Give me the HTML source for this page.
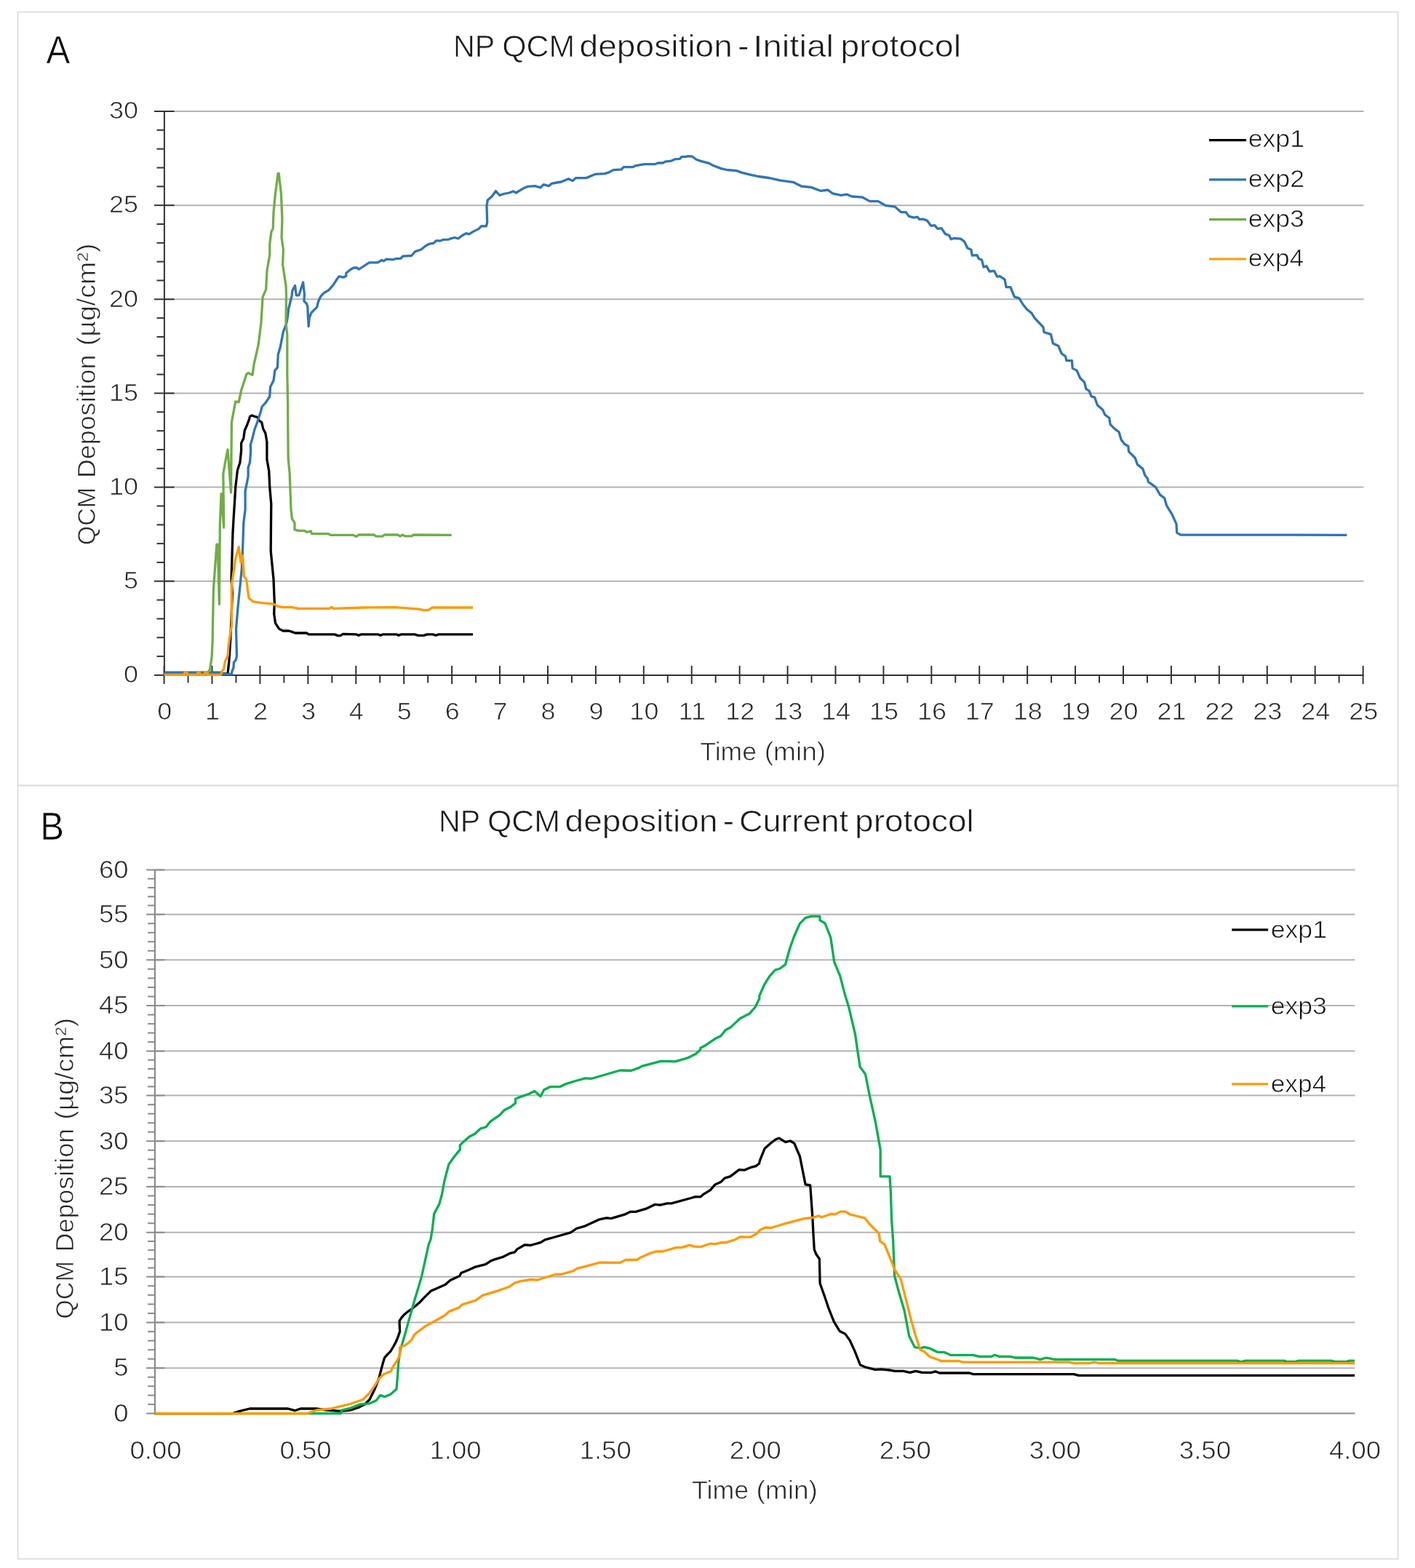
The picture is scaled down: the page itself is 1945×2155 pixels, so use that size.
<!DOCTYPE html>
<html><head><meta charset="utf-8"><title>NP QCM deposition</title>
<style>
html,body{margin:0;padding:0;background:#fff;}
body{width:1945px;height:2155px;overflow:hidden;}
svg{display:block;font-family:'Liberation Sans', Arial, sans-serif;}
text{stroke:#fff;stroke-width:0.7px;}
</style></head>
<body>
<svg width="1945" height="2155" viewBox="0 0 1945 2155">
<rect x="0" y="0" width="1945" height="2155" fill="#ffffff"/>
<rect x="24.5" y="16.5" width="1897" height="1063" fill="none" stroke="#d9d9d9" stroke-width="1.6"/>
<rect x="24.5" y="1079.5" width="1897" height="1063" fill="none" stroke="#d9d9d9" stroke-width="1.6"/>
<line x1="225.6" y1="798.75" x2="1874.5" y2="798.75" stroke="#b3b3b3" stroke-width="2"/>
<line x1="225.6" y1="669.6" x2="1874.5" y2="669.6" stroke="#b3b3b3" stroke-width="2"/>
<line x1="225.6" y1="540.45" x2="1874.5" y2="540.45" stroke="#b3b3b3" stroke-width="2"/>
<line x1="225.6" y1="411.3" x2="1874.5" y2="411.3" stroke="#b3b3b3" stroke-width="2"/>
<line x1="225.6" y1="282.15" x2="1874.5" y2="282.15" stroke="#b3b3b3" stroke-width="2"/>
<line x1="225.6" y1="153" x2="1874.5" y2="153" stroke="#b3b3b3" stroke-width="2"/>
<line x1="225.9" y1="152.5" x2="225.9" y2="928.5" stroke="#333333" stroke-width="2"/>
<line x1="212" y1="927.9" x2="239.6" y2="927.9" stroke="#333333" stroke-width="2"/>
<line x1="215.5" y1="902.07" x2="225.9" y2="902.07" stroke="#333333" stroke-width="2"/>
<line x1="215.5" y1="876.24" x2="225.9" y2="876.24" stroke="#333333" stroke-width="2"/>
<line x1="215.5" y1="850.41" x2="225.9" y2="850.41" stroke="#333333" stroke-width="2"/>
<line x1="215.5" y1="824.58" x2="225.9" y2="824.58" stroke="#333333" stroke-width="2"/>
<line x1="212" y1="798.75" x2="239.6" y2="798.75" stroke="#333333" stroke-width="2"/>
<line x1="215.5" y1="772.92" x2="225.9" y2="772.92" stroke="#333333" stroke-width="2"/>
<line x1="215.5" y1="747.09" x2="225.9" y2="747.09" stroke="#333333" stroke-width="2"/>
<line x1="215.5" y1="721.26" x2="225.9" y2="721.26" stroke="#333333" stroke-width="2"/>
<line x1="215.5" y1="695.43" x2="225.9" y2="695.43" stroke="#333333" stroke-width="2"/>
<line x1="212" y1="669.6" x2="239.6" y2="669.6" stroke="#333333" stroke-width="2"/>
<line x1="215.5" y1="643.77" x2="225.9" y2="643.77" stroke="#333333" stroke-width="2"/>
<line x1="215.5" y1="617.94" x2="225.9" y2="617.94" stroke="#333333" stroke-width="2"/>
<line x1="215.5" y1="592.11" x2="225.9" y2="592.11" stroke="#333333" stroke-width="2"/>
<line x1="215.5" y1="566.28" x2="225.9" y2="566.28" stroke="#333333" stroke-width="2"/>
<line x1="212" y1="540.45" x2="239.6" y2="540.45" stroke="#333333" stroke-width="2"/>
<line x1="215.5" y1="514.62" x2="225.9" y2="514.62" stroke="#333333" stroke-width="2"/>
<line x1="215.5" y1="488.79" x2="225.9" y2="488.79" stroke="#333333" stroke-width="2"/>
<line x1="215.5" y1="462.96" x2="225.9" y2="462.96" stroke="#333333" stroke-width="2"/>
<line x1="215.5" y1="437.13" x2="225.9" y2="437.13" stroke="#333333" stroke-width="2"/>
<line x1="212" y1="411.3" x2="239.6" y2="411.3" stroke="#333333" stroke-width="2"/>
<line x1="215.5" y1="385.47" x2="225.9" y2="385.47" stroke="#333333" stroke-width="2"/>
<line x1="215.5" y1="359.64" x2="225.9" y2="359.64" stroke="#333333" stroke-width="2"/>
<line x1="215.5" y1="333.81" x2="225.9" y2="333.81" stroke="#333333" stroke-width="2"/>
<line x1="215.5" y1="307.98" x2="225.9" y2="307.98" stroke="#333333" stroke-width="2"/>
<line x1="212" y1="282.15" x2="239.6" y2="282.15" stroke="#333333" stroke-width="2"/>
<line x1="215.5" y1="256.32" x2="225.9" y2="256.32" stroke="#333333" stroke-width="2"/>
<line x1="215.5" y1="230.49" x2="225.9" y2="230.49" stroke="#333333" stroke-width="2"/>
<line x1="215.5" y1="204.66" x2="225.9" y2="204.66" stroke="#333333" stroke-width="2"/>
<line x1="215.5" y1="178.83" x2="225.9" y2="178.83" stroke="#333333" stroke-width="2"/>
<line x1="212" y1="153" x2="239.6" y2="153" stroke="#333333" stroke-width="2"/>
<line x1="225" y1="927.9" x2="1874.5" y2="927.9" stroke="#333333" stroke-width="2"/>
<line x1="225.6" y1="915" x2="225.6" y2="940" stroke="#333333" stroke-width="2"/>
<line x1="258.56" y1="927.9" x2="258.56" y2="938.5" stroke="#333333" stroke-width="2"/>
<line x1="291.52" y1="915" x2="291.52" y2="940" stroke="#333333" stroke-width="2"/>
<line x1="324.48" y1="927.9" x2="324.48" y2="938.5" stroke="#333333" stroke-width="2"/>
<line x1="357.44" y1="915" x2="357.44" y2="940" stroke="#333333" stroke-width="2"/>
<line x1="390.4" y1="927.9" x2="390.4" y2="938.5" stroke="#333333" stroke-width="2"/>
<line x1="423.36" y1="915" x2="423.36" y2="940" stroke="#333333" stroke-width="2"/>
<line x1="456.32" y1="927.9" x2="456.32" y2="938.5" stroke="#333333" stroke-width="2"/>
<line x1="489.28" y1="915" x2="489.28" y2="940" stroke="#333333" stroke-width="2"/>
<line x1="522.24" y1="927.9" x2="522.24" y2="938.5" stroke="#333333" stroke-width="2"/>
<line x1="555.2" y1="915" x2="555.2" y2="940" stroke="#333333" stroke-width="2"/>
<line x1="588.16" y1="927.9" x2="588.16" y2="938.5" stroke="#333333" stroke-width="2"/>
<line x1="621.12" y1="915" x2="621.12" y2="940" stroke="#333333" stroke-width="2"/>
<line x1="654.08" y1="927.9" x2="654.08" y2="938.5" stroke="#333333" stroke-width="2"/>
<line x1="687.04" y1="915" x2="687.04" y2="940" stroke="#333333" stroke-width="2"/>
<line x1="720" y1="927.9" x2="720" y2="938.5" stroke="#333333" stroke-width="2"/>
<line x1="752.96" y1="915" x2="752.96" y2="940" stroke="#333333" stroke-width="2"/>
<line x1="785.92" y1="927.9" x2="785.92" y2="938.5" stroke="#333333" stroke-width="2"/>
<line x1="818.88" y1="915" x2="818.88" y2="940" stroke="#333333" stroke-width="2"/>
<line x1="851.84" y1="927.9" x2="851.84" y2="938.5" stroke="#333333" stroke-width="2"/>
<line x1="884.8" y1="915" x2="884.8" y2="940" stroke="#333333" stroke-width="2"/>
<line x1="917.76" y1="927.9" x2="917.76" y2="938.5" stroke="#333333" stroke-width="2"/>
<line x1="950.72" y1="915" x2="950.72" y2="940" stroke="#333333" stroke-width="2"/>
<line x1="983.68" y1="927.9" x2="983.68" y2="938.5" stroke="#333333" stroke-width="2"/>
<line x1="1016.64" y1="915" x2="1016.64" y2="940" stroke="#333333" stroke-width="2"/>
<line x1="1049.6" y1="927.9" x2="1049.6" y2="938.5" stroke="#333333" stroke-width="2"/>
<line x1="1082.56" y1="915" x2="1082.56" y2="940" stroke="#333333" stroke-width="2"/>
<line x1="1115.52" y1="927.9" x2="1115.52" y2="938.5" stroke="#333333" stroke-width="2"/>
<line x1="1148.48" y1="915" x2="1148.48" y2="940" stroke="#333333" stroke-width="2"/>
<line x1="1181.44" y1="927.9" x2="1181.44" y2="938.5" stroke="#333333" stroke-width="2"/>
<line x1="1214.4" y1="915" x2="1214.4" y2="940" stroke="#333333" stroke-width="2"/>
<line x1="1247.36" y1="927.9" x2="1247.36" y2="938.5" stroke="#333333" stroke-width="2"/>
<line x1="1280.32" y1="915" x2="1280.32" y2="940" stroke="#333333" stroke-width="2"/>
<line x1="1313.28" y1="927.9" x2="1313.28" y2="938.5" stroke="#333333" stroke-width="2"/>
<line x1="1346.24" y1="915" x2="1346.24" y2="940" stroke="#333333" stroke-width="2"/>
<line x1="1379.2" y1="927.9" x2="1379.2" y2="938.5" stroke="#333333" stroke-width="2"/>
<line x1="1412.16" y1="915" x2="1412.16" y2="940" stroke="#333333" stroke-width="2"/>
<line x1="1445.12" y1="927.9" x2="1445.12" y2="938.5" stroke="#333333" stroke-width="2"/>
<line x1="1478.08" y1="915" x2="1478.08" y2="940" stroke="#333333" stroke-width="2"/>
<line x1="1511.04" y1="927.9" x2="1511.04" y2="938.5" stroke="#333333" stroke-width="2"/>
<line x1="1544" y1="915" x2="1544" y2="940" stroke="#333333" stroke-width="2"/>
<line x1="1576.96" y1="927.9" x2="1576.96" y2="938.5" stroke="#333333" stroke-width="2"/>
<line x1="1609.92" y1="915" x2="1609.92" y2="940" stroke="#333333" stroke-width="2"/>
<line x1="1642.88" y1="927.9" x2="1642.88" y2="938.5" stroke="#333333" stroke-width="2"/>
<line x1="1675.84" y1="915" x2="1675.84" y2="940" stroke="#333333" stroke-width="2"/>
<line x1="1708.8" y1="927.9" x2="1708.8" y2="938.5" stroke="#333333" stroke-width="2"/>
<line x1="1741.76" y1="915" x2="1741.76" y2="940" stroke="#333333" stroke-width="2"/>
<line x1="1774.72" y1="927.9" x2="1774.72" y2="938.5" stroke="#333333" stroke-width="2"/>
<line x1="1807.68" y1="915" x2="1807.68" y2="940" stroke="#333333" stroke-width="2"/>
<line x1="1840.64" y1="927.9" x2="1840.64" y2="938.5" stroke="#333333" stroke-width="2"/>
<line x1="1873.6" y1="915" x2="1873.6" y2="940" stroke="#333333" stroke-width="2"/>
<text x="190" y="938.2" font-size="33.8" text-anchor="end" fill="#262626" textLength="20.02" lengthAdjust="spacingAndGlyphs">0</text>
<text x="190" y="809.05" font-size="33.8" text-anchor="end" fill="#262626" textLength="20.02" lengthAdjust="spacingAndGlyphs">5</text>
<text x="190" y="679.9" font-size="33.8" text-anchor="end" fill="#262626" textLength="40.04" lengthAdjust="spacingAndGlyphs">10</text>
<text x="190" y="550.75" font-size="33.8" text-anchor="end" fill="#262626" textLength="40.04" lengthAdjust="spacingAndGlyphs">15</text>
<text x="190" y="421.6" font-size="33.8" text-anchor="end" fill="#262626" textLength="40.04" lengthAdjust="spacingAndGlyphs">20</text>
<text x="190" y="292.45" font-size="33.8" text-anchor="end" fill="#262626" textLength="40.04" lengthAdjust="spacingAndGlyphs">25</text>
<text x="190" y="163.3" font-size="33.8" text-anchor="end" fill="#262626" textLength="40.04" lengthAdjust="spacingAndGlyphs">30</text>
<text x="226.2" y="989.4" font-size="33.8" text-anchor="middle" fill="#262626" textLength="20.02" lengthAdjust="spacingAndGlyphs">0</text>
<text x="292.12" y="989.4" font-size="33.8" text-anchor="middle" fill="#262626" textLength="20.02" lengthAdjust="spacingAndGlyphs">1</text>
<text x="358.04" y="989.4" font-size="33.8" text-anchor="middle" fill="#262626" textLength="20.02" lengthAdjust="spacingAndGlyphs">2</text>
<text x="423.96" y="989.4" font-size="33.8" text-anchor="middle" fill="#262626" textLength="20.02" lengthAdjust="spacingAndGlyphs">3</text>
<text x="489.88" y="989.4" font-size="33.8" text-anchor="middle" fill="#262626" textLength="20.02" lengthAdjust="spacingAndGlyphs">4</text>
<text x="555.8" y="989.4" font-size="33.8" text-anchor="middle" fill="#262626" textLength="20.02" lengthAdjust="spacingAndGlyphs">5</text>
<text x="621.72" y="989.4" font-size="33.8" text-anchor="middle" fill="#262626" textLength="20.02" lengthAdjust="spacingAndGlyphs">6</text>
<text x="687.64" y="989.4" font-size="33.8" text-anchor="middle" fill="#262626" textLength="20.02" lengthAdjust="spacingAndGlyphs">7</text>
<text x="753.56" y="989.4" font-size="33.8" text-anchor="middle" fill="#262626" textLength="20.02" lengthAdjust="spacingAndGlyphs">8</text>
<text x="819.48" y="989.4" font-size="33.8" text-anchor="middle" fill="#262626" textLength="20.02" lengthAdjust="spacingAndGlyphs">9</text>
<text x="885.4" y="989.4" font-size="33.8" text-anchor="middle" fill="#262626" textLength="40.04" lengthAdjust="spacingAndGlyphs">10</text>
<text x="951.32" y="989.4" font-size="33.8" text-anchor="middle" fill="#262626" textLength="37.37" lengthAdjust="spacingAndGlyphs">11</text>
<text x="1017.24" y="989.4" font-size="33.8" text-anchor="middle" fill="#262626" textLength="40.04" lengthAdjust="spacingAndGlyphs">12</text>
<text x="1083.16" y="989.4" font-size="33.8" text-anchor="middle" fill="#262626" textLength="40.04" lengthAdjust="spacingAndGlyphs">13</text>
<text x="1149.08" y="989.4" font-size="33.8" text-anchor="middle" fill="#262626" textLength="40.04" lengthAdjust="spacingAndGlyphs">14</text>
<text x="1215" y="989.4" font-size="33.8" text-anchor="middle" fill="#262626" textLength="40.04" lengthAdjust="spacingAndGlyphs">15</text>
<text x="1280.92" y="989.4" font-size="33.8" text-anchor="middle" fill="#262626" textLength="40.04" lengthAdjust="spacingAndGlyphs">16</text>
<text x="1346.84" y="989.4" font-size="33.8" text-anchor="middle" fill="#262626" textLength="40.04" lengthAdjust="spacingAndGlyphs">17</text>
<text x="1412.76" y="989.4" font-size="33.8" text-anchor="middle" fill="#262626" textLength="40.04" lengthAdjust="spacingAndGlyphs">18</text>
<text x="1478.68" y="989.4" font-size="33.8" text-anchor="middle" fill="#262626" textLength="40.04" lengthAdjust="spacingAndGlyphs">19</text>
<text x="1544.6" y="989.4" font-size="33.8" text-anchor="middle" fill="#262626" textLength="40.04" lengthAdjust="spacingAndGlyphs">20</text>
<text x="1610.52" y="989.4" font-size="33.8" text-anchor="middle" fill="#262626" textLength="40.04" lengthAdjust="spacingAndGlyphs">21</text>
<text x="1676.44" y="989.4" font-size="33.8" text-anchor="middle" fill="#262626" textLength="40.04" lengthAdjust="spacingAndGlyphs">22</text>
<text x="1742.36" y="989.4" font-size="33.8" text-anchor="middle" fill="#262626" textLength="40.04" lengthAdjust="spacingAndGlyphs">23</text>
<text x="1808.28" y="989.4" font-size="33.8" text-anchor="middle" fill="#262626" textLength="40.04" lengthAdjust="spacingAndGlyphs">24</text>
<text x="1874.2" y="989.4" font-size="33.8" text-anchor="middle" fill="#262626" textLength="40.04" lengthAdjust="spacingAndGlyphs">25</text>
<text x="962.22" y="1045.3" font-size="34.9" fill="#262626" textLength="77.85" lengthAdjust="spacingAndGlyphs">Time</text>
<text x="1050.7" y="1045.3" font-size="34.9" fill="#262626" textLength="84.41" lengthAdjust="spacingAndGlyphs">(min)</text>
<text transform="translate(130.7 747.7) rotate(-90)" x="-1.6" y="0" font-size="34.9" fill="#262626" textLength="79.5" lengthAdjust="spacingAndGlyphs">QCM</text>
<text transform="translate(130.7 654.1) rotate(-90)" x="-2.94" y="0" font-size="34.9" fill="#262626" textLength="169.48" lengthAdjust="spacingAndGlyphs">Deposition</text>
<text transform="translate(130.7 473) rotate(-90)" x="-2.33" y="0" font-size="34.9" fill="#262626" textLength="140.88" lengthAdjust="spacingAndGlyphs">(µg/cm²)</text>
<text x="623.03" y="78.4" font-size="42.2" fill="#1a1a1a" textLength="57.16" lengthAdjust="spacingAndGlyphs">NP</text>
<text x="690.28" y="78.4" font-size="42.2" fill="#1a1a1a" textLength="100.03" lengthAdjust="spacingAndGlyphs">QCM</text>
<text x="796.56" y="78.4" font-size="42.2" fill="#1a1a1a" textLength="210.24" lengthAdjust="spacingAndGlyphs">deposition</text>
<text x="1014.13" y="78.4" font-size="42.2" fill="#1a1a1a" textLength="15.63" lengthAdjust="spacingAndGlyphs">-</text>
<text x="1035.23" y="78.4" font-size="42.2" fill="#1a1a1a" textLength="110.87" lengthAdjust="spacingAndGlyphs">Initial</text>
<text x="1155.17" y="78.4" font-size="42.2" fill="#1a1a1a" textLength="165.99" lengthAdjust="spacingAndGlyphs">protocol</text>
<text x="63.6" y="86.8" font-size="53.8" text-anchor="start" fill="#000000" textLength="32.8" lengthAdjust="spacingAndGlyphs">A</text>
<line x1="1662" y1="192.6" x2="1713" y2="192.6" stroke="#000000" stroke-width="3.2"/>
<text x="1715.7" y="202.3" font-size="34" fill="#111111" textLength="77.26" lengthAdjust="spacingAndGlyphs">exp1</text>
<line x1="1662" y1="246.8" x2="1713" y2="246.8" stroke="#2e75b6" stroke-width="3.2"/>
<text x="1715.7" y="257.3" font-size="34" fill="#111111" textLength="77.3" lengthAdjust="spacingAndGlyphs">exp2</text>
<line x1="1662" y1="301.6" x2="1713" y2="301.6" stroke="#70ad47" stroke-width="3.2"/>
<text x="1715.71" y="311.8" font-size="34" fill="#111111" textLength="77.07" lengthAdjust="spacingAndGlyphs">exp3</text>
<line x1="1662" y1="356" x2="1713" y2="356" stroke="#ff9900" stroke-width="3.2"/>
<text x="1715.72" y="366.3" font-size="34" fill="#111111" textLength="76.52" lengthAdjust="spacingAndGlyphs">exp4</text>
<polyline points="225.6,924.3 302,924.3 306,926 313,926 314.9,908.2 316.7,879.8 318,850 319.3,815.4 318,796 318.5,780 320,731.6 321,714.3 323.75,669.6 326.4,646.4 330,635.2 331.6,619.3 331.6,609 334.8,602.6 336.3,591.5 339.5,584.4 342.7,575.7 343.5,572.5 346.3,570.9 349,572.1 353.8,573.3 356.2,578.1 359.7,580.4 361.7,589.2 364.9,595.5 366.9,607.4 366.9,631.2 369.7,647.1 370.8,670 372.8,692.9 372.5,720 372.2,757.4 376,796 377.3,828.3 376.7,843.7 378.6,856.6 383.8,864.4 388.9,867 396.7,867 400,867.9 405.7,870 421.4,870 424.3,871.9 460,871.9 464.3,873.6 468,873.6 471.4,871.4 490,871.9 493,873.3 496,871.9 520,871.9 523,873.3 526,871.9 545,871.9 548,873.3 551,871.9 570,871.9 575,873.3 583,873.3 587,871.9 595,871.9 599,873.3 603,871.9 650,871.9" fill="none" stroke="#000000" stroke-width="3.3" stroke-linejoin="round" stroke-linecap="butt"/>
<polyline points="225.6,924.3 302.4,924.3 306.4,926.3 318.5,926.3 318.9,922.7 320.9,918 321.5,910.2 324.2,906.9 325.5,901.6 324.5,864.4 327,834.7 329.6,808.9 332.2,783.1 333.5,757.4 334.8,718.7 337.1,700 337.1,674.8 341.1,655 341.1,643.1 343.5,635.2 344.7,619.3 344.3,611.4 346.7,603.4 349.8,590.8 353.8,579.7 358.5,565.4 360.1,559 365.4,553.1 370.7,545 371.6,531.7 376.1,522.7 377.8,509.4 381.4,504.9 382.3,487 385,478.1 386.8,469.2 388.5,460.3 389.4,455.8 393.9,444.2 395.7,433.5 396.6,424.6 398.4,417.5 401,406.8 401.9,399.6 405.5,392.5 407.3,405.9 410.8,405.9 413.5,397.8 416.6,388 418.4,404.1 418,413.9 421.6,417.5 422.9,421.9 423.3,433.5 424.2,448.7 425.1,437.1 427.8,430 431.4,426.4 435.8,421.9 436.7,417.5 438.5,412.1 441.2,406.8 445.6,402.3 449.2,400.5 451.9,398.7 458.1,391.6 462.6,384.5 465.9,379.9 471.9,381.2 475.8,379.2 475.8,375.3 482.4,370 486.4,368 490.3,368 493.6,370 499.6,366 507.5,360.8 519.3,360.8 524.6,357.5 527.3,358.8 531.2,356.2 540.4,356.8 544.4,355.5 551,355.2 553.6,352.2 565.5,351.5 570.8,345.6 578.7,343 585.3,337.7 590.6,335.1 595.8,334.4 599.8,330.7 605.1,331.1 609,329.4 616.9,329.1 619.6,327.8 624.8,326.5 630.1,327.8 634.1,324.5 640.7,320.6 644.6,321.9 649.9,318.6 657.8,314.6 661.8,310.7 668.4,310.9 669.7,305.4 669,283 670.3,275.1 676.3,269.8 681.5,262.5 686.8,268.5 692.1,266.5 700,265 705.7,262.9 709.3,265 718.6,259.3 725,256.4 735.7,255.7 742.9,257.9 747.1,253.6 754.3,255.7 758.6,252.1 771.4,250 781.4,245.7 787.1,248.6 791.4,244.6 805.7,244.6 818.6,239.3 831.4,238.6 837.1,236.9 842.9,233.6 854.3,232.9 857.1,229.7 870,229.7 872.9,227.9 885.7,225.7 900,225.7 904.3,224 911,224 914.3,222.1 922.9,221.1 928.6,218.6 934.3,218.3 937.1,215.4 943,215.4 945.7,214.6 951.4,215 957.1,219.3 963.2,221.4 974.7,224.4 979.7,227.2 991.2,231.6 999.4,233.5 1012.6,234.6 1019.2,237.1 1032.4,240.4 1042.3,242.5 1057.1,244.5 1072,247.8 1090.1,250.3 1101.6,256 1114.8,257.4 1128,262.3 1137.9,261 1144.5,265.9 1156,268.4 1164.3,267.2 1170.9,270 1185.7,271.2 1195.6,276.6 1207.1,276.6 1217,282.4 1230.2,284.1 1238.4,291.5 1245.3,291.6 1249.2,297.1 1255.8,299.1 1261.1,298.2 1263.7,301.4 1269,301.1 1274.3,303.1 1279.6,310.3 1284.8,309.7 1288.8,314.3 1294.1,313.6 1299.3,321.5 1304.6,323.5 1307.3,328.8 1311.2,327.5 1320.4,328.1 1325.7,332.1 1329.7,340.7 1335,343.3 1336.3,351.2 1342.9,350.6 1345.5,355.8 1349.5,357.1 1352.1,367 1356,365.7 1360,373 1366.6,372.3 1370.6,380.2 1374.5,379.6 1381.1,384.2 1383.1,394.7 1389,394.7 1394.3,407.9 1400.9,409.9 1406.2,418.5 1411.4,425.1 1418,430.3 1422,436.9 1433.9,449.5 1435.2,456.7 1444.4,459.3 1447.4,471.9 1454.9,475.6 1459.3,486 1464.5,489.7 1466,495.7 1473.5,495.7 1474.2,506.1 1480.1,509.1 1484.6,519.5 1490.6,525.4 1492.8,534.3 1497.2,537.3 1500.2,544.8 1504.7,546.2 1508.4,556.7 1515.8,563.3 1518.8,570 1524.8,574.5 1526.2,583.4 1532.2,589.4 1538.1,593.8 1541.1,604.2 1545.6,610.2 1550.8,613.2 1551.5,620.6 1560.4,629.5 1563.4,638.4 1570.9,644.4 1573.8,653.3 1577.5,657.8 1578.3,662.2 1588.7,669.7 1594.6,680.1 1600.6,684.5 1603.6,694.9 1611,706.8 1617,720.2 1617.7,732.1 1622.9,735 1851.4,735.3" fill="none" stroke="#2e75b6" stroke-width="3.3" stroke-linejoin="round" stroke-linecap="butt"/>
<polyline points="225.6,927.3 284,927.3 286,924 288.6,920 289.9,911.5 291.2,901.6 292.2,880 292.5,860 293.4,810.7 297.9,748.2 299.3,748.2 301.4,830.4 302.3,721.4 304.1,678.6 307.7,725 306.8,651.8 309.5,635.7 313,617.9 317.5,676.8 318.4,580.4 323.75,551.8 328.2,552.7 331.8,535.7 338.9,514.3 341,512.5 347,515.2 349.2,500 355.2,473.6 358.9,443.9 361.1,408.2 365.6,397.8 367.1,371 370.8,350.2 370.8,335.3 373,318.2 375.2,314.5 376,292.2 378.2,268.4 382.2,238.5 383.2,238.5 386.4,265.4 387.9,301.1 387.1,326.4 389.4,342.8 388.6,363.6 393.1,393.3 393.5,406.8 393,442.4 394.8,460.3 394.8,513.8 395.7,555.9 395.8,587.6 396.2,631.2 398.2,651 399,674.8 400,700 401.4,712.9 405,718.6 405,727.9 410,729.3 418.6,729.3 421.4,731.4 427.1,730 428.6,733.6 451.4,733.6 454.3,735.4 485.7,735.4 490,737.4 492.9,735 514.3,735 517.1,737.1 525.7,737.1 528.6,735 547.1,735 550,737.1 553,735 557.1,736.9 565.7,736.9 568.6,735 620.7,735.4" fill="none" stroke="#70ad47" stroke-width="3.3" stroke-linejoin="round" stroke-linecap="butt"/>
<polyline points="225.6,927.3 253,927.3 253.6,924.6 257.2,924.6 257.8,927.3 271,927.3 271.6,924.6 274.6,924.6 275.2,927.3 281,927.3 281.6,924.6 284.8,924.6 285.4,927.3 303.7,927.3 305,922.7 307.7,919.4 308.3,914.8 309.6,908.2 311,905.5 313,901.6 314.2,886.3 316.1,873.4 318.4,860 318.4,803.6 323.75,767.9 328.2,751.8 330.9,772.8 333.5,763.8 335.4,792.2 338.6,796 341.9,821.8 347.9,826.8 360,828.6 376,830.2 382.5,833.4 388.9,834.7 400,834.3 410,836.4 452.9,836.4 455.7,834.3 458.6,836.4 500,835 542.9,834.6 575.7,837.1 582.9,838.6 588.6,838.6 594.3,835 650,835" fill="none" stroke="#ff9900" stroke-width="3.3" stroke-linejoin="round" stroke-linecap="butt"/>
<line x1="212.9" y1="1880.2" x2="1862.5" y2="1880.2" stroke="#b3b3b3" stroke-width="2"/>
<line x1="212.9" y1="1817.6" x2="1862.5" y2="1817.6" stroke="#b3b3b3" stroke-width="2"/>
<line x1="212.9" y1="1754.7" x2="1862.5" y2="1754.7" stroke="#b3b3b3" stroke-width="2"/>
<line x1="212.9" y1="1693.8" x2="1862.5" y2="1693.8" stroke="#b3b3b3" stroke-width="2"/>
<line x1="212.9" y1="1630.9" x2="1862.5" y2="1630.9" stroke="#b3b3b3" stroke-width="2"/>
<line x1="212.9" y1="1568.3" x2="1862.5" y2="1568.3" stroke="#b3b3b3" stroke-width="2"/>
<line x1="212.9" y1="1505.6" x2="1862.5" y2="1505.6" stroke="#b3b3b3" stroke-width="2"/>
<line x1="212.9" y1="1444.6" x2="1862.5" y2="1444.6" stroke="#b3b3b3" stroke-width="2"/>
<line x1="212.9" y1="1382.1" x2="1862.5" y2="1382.1" stroke="#b3b3b3" stroke-width="2"/>
<line x1="212.9" y1="1319.3" x2="1862.5" y2="1319.3" stroke="#b3b3b3" stroke-width="2"/>
<line x1="212.9" y1="1256.7" x2="1862.5" y2="1256.7" stroke="#b3b3b3" stroke-width="2"/>
<line x1="212.9" y1="1195.5" x2="1862.5" y2="1195.5" stroke="#b3b3b3" stroke-width="2"/>
<line x1="212.9" y1="1942.6" x2="1862.5" y2="1942.6" stroke="#8c8a8a" stroke-width="2"/>
<line x1="212.9" y1="1195" x2="212.9" y2="1943.5" stroke="#8c8a8a" stroke-width="2.2"/>
<line x1="201.2" y1="1942.6" x2="226.4" y2="1942.6" stroke="#8c8a8a" stroke-width="2"/>
<line x1="203.1" y1="1930.12" x2="212.9" y2="1930.12" stroke="#8c8a8a" stroke-width="2"/>
<line x1="203.1" y1="1917.64" x2="212.9" y2="1917.64" stroke="#8c8a8a" stroke-width="2"/>
<line x1="203.1" y1="1905.16" x2="212.9" y2="1905.16" stroke="#8c8a8a" stroke-width="2"/>
<line x1="203.1" y1="1892.68" x2="212.9" y2="1892.68" stroke="#8c8a8a" stroke-width="2"/>
<line x1="201.2" y1="1880.2" x2="226.4" y2="1880.2" stroke="#8c8a8a" stroke-width="2"/>
<line x1="203.1" y1="1867.68" x2="212.9" y2="1867.68" stroke="#8c8a8a" stroke-width="2"/>
<line x1="203.1" y1="1855.16" x2="212.9" y2="1855.16" stroke="#8c8a8a" stroke-width="2"/>
<line x1="203.1" y1="1842.64" x2="212.9" y2="1842.64" stroke="#8c8a8a" stroke-width="2"/>
<line x1="203.1" y1="1830.12" x2="212.9" y2="1830.12" stroke="#8c8a8a" stroke-width="2"/>
<line x1="201.2" y1="1817.6" x2="226.4" y2="1817.6" stroke="#8c8a8a" stroke-width="2"/>
<line x1="203.1" y1="1805.02" x2="212.9" y2="1805.02" stroke="#8c8a8a" stroke-width="2"/>
<line x1="203.1" y1="1792.44" x2="212.9" y2="1792.44" stroke="#8c8a8a" stroke-width="2"/>
<line x1="203.1" y1="1779.86" x2="212.9" y2="1779.86" stroke="#8c8a8a" stroke-width="2"/>
<line x1="203.1" y1="1767.28" x2="212.9" y2="1767.28" stroke="#8c8a8a" stroke-width="2"/>
<line x1="201.2" y1="1754.7" x2="226.4" y2="1754.7" stroke="#8c8a8a" stroke-width="2"/>
<line x1="203.1" y1="1742.52" x2="212.9" y2="1742.52" stroke="#8c8a8a" stroke-width="2"/>
<line x1="203.1" y1="1730.34" x2="212.9" y2="1730.34" stroke="#8c8a8a" stroke-width="2"/>
<line x1="203.1" y1="1718.16" x2="212.9" y2="1718.16" stroke="#8c8a8a" stroke-width="2"/>
<line x1="203.1" y1="1705.98" x2="212.9" y2="1705.98" stroke="#8c8a8a" stroke-width="2"/>
<line x1="201.2" y1="1693.8" x2="226.4" y2="1693.8" stroke="#8c8a8a" stroke-width="2"/>
<line x1="203.1" y1="1681.22" x2="212.9" y2="1681.22" stroke="#8c8a8a" stroke-width="2"/>
<line x1="203.1" y1="1668.64" x2="212.9" y2="1668.64" stroke="#8c8a8a" stroke-width="2"/>
<line x1="203.1" y1="1656.06" x2="212.9" y2="1656.06" stroke="#8c8a8a" stroke-width="2"/>
<line x1="203.1" y1="1643.48" x2="212.9" y2="1643.48" stroke="#8c8a8a" stroke-width="2"/>
<line x1="201.2" y1="1630.9" x2="226.4" y2="1630.9" stroke="#8c8a8a" stroke-width="2"/>
<line x1="203.1" y1="1618.38" x2="212.9" y2="1618.38" stroke="#8c8a8a" stroke-width="2"/>
<line x1="203.1" y1="1605.86" x2="212.9" y2="1605.86" stroke="#8c8a8a" stroke-width="2"/>
<line x1="203.1" y1="1593.34" x2="212.9" y2="1593.34" stroke="#8c8a8a" stroke-width="2"/>
<line x1="203.1" y1="1580.82" x2="212.9" y2="1580.82" stroke="#8c8a8a" stroke-width="2"/>
<line x1="201.2" y1="1568.3" x2="226.4" y2="1568.3" stroke="#8c8a8a" stroke-width="2"/>
<line x1="203.1" y1="1555.76" x2="212.9" y2="1555.76" stroke="#8c8a8a" stroke-width="2"/>
<line x1="203.1" y1="1543.22" x2="212.9" y2="1543.22" stroke="#8c8a8a" stroke-width="2"/>
<line x1="203.1" y1="1530.68" x2="212.9" y2="1530.68" stroke="#8c8a8a" stroke-width="2"/>
<line x1="203.1" y1="1518.14" x2="212.9" y2="1518.14" stroke="#8c8a8a" stroke-width="2"/>
<line x1="201.2" y1="1505.6" x2="226.4" y2="1505.6" stroke="#8c8a8a" stroke-width="2"/>
<line x1="203.1" y1="1493.4" x2="212.9" y2="1493.4" stroke="#8c8a8a" stroke-width="2"/>
<line x1="203.1" y1="1481.2" x2="212.9" y2="1481.2" stroke="#8c8a8a" stroke-width="2"/>
<line x1="203.1" y1="1469" x2="212.9" y2="1469" stroke="#8c8a8a" stroke-width="2"/>
<line x1="203.1" y1="1456.8" x2="212.9" y2="1456.8" stroke="#8c8a8a" stroke-width="2"/>
<line x1="201.2" y1="1444.6" x2="226.4" y2="1444.6" stroke="#8c8a8a" stroke-width="2"/>
<line x1="203.1" y1="1432.1" x2="212.9" y2="1432.1" stroke="#8c8a8a" stroke-width="2"/>
<line x1="203.1" y1="1419.6" x2="212.9" y2="1419.6" stroke="#8c8a8a" stroke-width="2"/>
<line x1="203.1" y1="1407.1" x2="212.9" y2="1407.1" stroke="#8c8a8a" stroke-width="2"/>
<line x1="203.1" y1="1394.6" x2="212.9" y2="1394.6" stroke="#8c8a8a" stroke-width="2"/>
<line x1="201.2" y1="1382.1" x2="226.4" y2="1382.1" stroke="#8c8a8a" stroke-width="2"/>
<line x1="203.1" y1="1369.54" x2="212.9" y2="1369.54" stroke="#8c8a8a" stroke-width="2"/>
<line x1="203.1" y1="1356.98" x2="212.9" y2="1356.98" stroke="#8c8a8a" stroke-width="2"/>
<line x1="203.1" y1="1344.42" x2="212.9" y2="1344.42" stroke="#8c8a8a" stroke-width="2"/>
<line x1="203.1" y1="1331.86" x2="212.9" y2="1331.86" stroke="#8c8a8a" stroke-width="2"/>
<line x1="201.2" y1="1319.3" x2="226.4" y2="1319.3" stroke="#8c8a8a" stroke-width="2"/>
<line x1="203.1" y1="1306.78" x2="212.9" y2="1306.78" stroke="#8c8a8a" stroke-width="2"/>
<line x1="203.1" y1="1294.26" x2="212.9" y2="1294.26" stroke="#8c8a8a" stroke-width="2"/>
<line x1="203.1" y1="1281.74" x2="212.9" y2="1281.74" stroke="#8c8a8a" stroke-width="2"/>
<line x1="203.1" y1="1269.22" x2="212.9" y2="1269.22" stroke="#8c8a8a" stroke-width="2"/>
<line x1="201.2" y1="1256.7" x2="226.4" y2="1256.7" stroke="#8c8a8a" stroke-width="2"/>
<line x1="203.1" y1="1244.46" x2="212.9" y2="1244.46" stroke="#8c8a8a" stroke-width="2"/>
<line x1="203.1" y1="1232.22" x2="212.9" y2="1232.22" stroke="#8c8a8a" stroke-width="2"/>
<line x1="203.1" y1="1219.98" x2="212.9" y2="1219.98" stroke="#8c8a8a" stroke-width="2"/>
<line x1="203.1" y1="1207.74" x2="212.9" y2="1207.74" stroke="#8c8a8a" stroke-width="2"/>
<line x1="201.2" y1="1195.5" x2="226.4" y2="1195.5" stroke="#8c8a8a" stroke-width="2"/>
<text x="176.6" y="1953.8" font-size="34.3" text-anchor="end" fill="#262626" textLength="20.32" lengthAdjust="spacingAndGlyphs">0</text>
<text x="176.6" y="1891.4" font-size="34.3" text-anchor="end" fill="#262626" textLength="20.32" lengthAdjust="spacingAndGlyphs">5</text>
<text x="176.6" y="1828.8" font-size="34.3" text-anchor="end" fill="#262626" textLength="40.63" lengthAdjust="spacingAndGlyphs">10</text>
<text x="176.6" y="1765.9" font-size="34.3" text-anchor="end" fill="#262626" textLength="40.63" lengthAdjust="spacingAndGlyphs">15</text>
<text x="176.6" y="1705" font-size="34.3" text-anchor="end" fill="#262626" textLength="40.63" lengthAdjust="spacingAndGlyphs">20</text>
<text x="176.6" y="1642.1" font-size="34.3" text-anchor="end" fill="#262626" textLength="40.63" lengthAdjust="spacingAndGlyphs">25</text>
<text x="176.6" y="1579.5" font-size="34.3" text-anchor="end" fill="#262626" textLength="40.63" lengthAdjust="spacingAndGlyphs">30</text>
<text x="176.6" y="1516.8" font-size="34.3" text-anchor="end" fill="#262626" textLength="40.63" lengthAdjust="spacingAndGlyphs">35</text>
<text x="176.6" y="1455.8" font-size="34.3" text-anchor="end" fill="#262626" textLength="40.63" lengthAdjust="spacingAndGlyphs">40</text>
<text x="176.6" y="1393.3" font-size="34.3" text-anchor="end" fill="#262626" textLength="40.63" lengthAdjust="spacingAndGlyphs">45</text>
<text x="176.6" y="1330.5" font-size="34.3" text-anchor="end" fill="#262626" textLength="40.63" lengthAdjust="spacingAndGlyphs">50</text>
<text x="176.6" y="1267.9" font-size="34.3" text-anchor="end" fill="#262626" textLength="40.63" lengthAdjust="spacingAndGlyphs">55</text>
<text x="176.6" y="1206.7" font-size="34.3" text-anchor="end" fill="#262626" textLength="40.63" lengthAdjust="spacingAndGlyphs">60</text>
<text x="214" y="2004.8" font-size="34.3" text-anchor="middle" fill="#262626" textLength="71.1" lengthAdjust="spacingAndGlyphs">0.00</text>
<text x="420.06" y="2004.8" font-size="34.3" text-anchor="middle" fill="#262626" textLength="71.1" lengthAdjust="spacingAndGlyphs">0.50</text>
<text x="626.12" y="2004.8" font-size="34.3" text-anchor="middle" fill="#262626" textLength="71.1" lengthAdjust="spacingAndGlyphs">1.00</text>
<text x="832.19" y="2004.8" font-size="34.3" text-anchor="middle" fill="#262626" textLength="71.1" lengthAdjust="spacingAndGlyphs">1.50</text>
<text x="1038.25" y="2004.8" font-size="34.3" text-anchor="middle" fill="#262626" textLength="71.1" lengthAdjust="spacingAndGlyphs">2.00</text>
<text x="1244.31" y="2004.8" font-size="34.3" text-anchor="middle" fill="#262626" textLength="71.1" lengthAdjust="spacingAndGlyphs">2.50</text>
<text x="1450.38" y="2004.8" font-size="34.3" text-anchor="middle" fill="#262626" textLength="71.1" lengthAdjust="spacingAndGlyphs">3.00</text>
<text x="1656.44" y="2004.8" font-size="34.3" text-anchor="middle" fill="#262626" textLength="71.1" lengthAdjust="spacingAndGlyphs">3.50</text>
<text x="1862.5" y="2004.8" font-size="34.3" text-anchor="middle" fill="#262626" textLength="71.1" lengthAdjust="spacingAndGlyphs">4.00</text>
<text x="951.01" y="2060" font-size="34.9" fill="#262626" textLength="78.27" lengthAdjust="spacingAndGlyphs">Time</text>
<text x="1039.5" y="2060" font-size="34.9" fill="#262626" textLength="84.41" lengthAdjust="spacingAndGlyphs">(min)</text>
<text transform="translate(101 1811.1) rotate(-90)" x="-1.6" y="0" font-size="34.9" fill="#262626" textLength="79.5" lengthAdjust="spacingAndGlyphs">QCM</text>
<text transform="translate(101 1717.5) rotate(-90)" x="-2.94" y="0" font-size="34.9" fill="#262626" textLength="169.48" lengthAdjust="spacingAndGlyphs">Deposition</text>
<text transform="translate(101 1536.4) rotate(-90)" x="-2.32" y="0" font-size="34.9" fill="#262626" textLength="139.84" lengthAdjust="spacingAndGlyphs">(µg/cm²)</text>
<text x="603.03" y="1142.9" font-size="42.2" fill="#1a1a1a" textLength="57.16" lengthAdjust="spacingAndGlyphs">NP</text>
<text x="669.98" y="1142.9" font-size="42.2" fill="#1a1a1a" textLength="100.14" lengthAdjust="spacingAndGlyphs">QCM</text>
<text x="776.57" y="1142.9" font-size="42.2" fill="#1a1a1a" textLength="210.03" lengthAdjust="spacingAndGlyphs">deposition</text>
<text x="993.77" y="1142.9" font-size="42.2" fill="#1a1a1a" textLength="15.36" lengthAdjust="spacingAndGlyphs">-</text>
<text x="1016.11" y="1142.9" font-size="42.2" fill="#1a1a1a" textLength="149.99" lengthAdjust="spacingAndGlyphs">Current</text>
<text x="1175.11" y="1142.9" font-size="42.2" fill="#1a1a1a" textLength="163.7" lengthAdjust="spacingAndGlyphs">protocol</text>
<text x="55.3" y="1153.7" font-size="53.8" text-anchor="start" fill="#000000" textLength="32.7" lengthAdjust="spacingAndGlyphs">B</text>
<line x1="1693.2" y1="1277.8" x2="1743.1" y2="1277.8" stroke="#000000" stroke-width="3.2"/>
<text x="1746.7" y="1288.8" font-size="34" fill="#111111" textLength="77.26" lengthAdjust="spacingAndGlyphs">exp1</text>
<line x1="1693.2" y1="1383" x2="1743.1" y2="1383" stroke="#00b050" stroke-width="3.2"/>
<text x="1746.71" y="1394" font-size="34" fill="#111111" textLength="77.07" lengthAdjust="spacingAndGlyphs">exp3</text>
<line x1="1693.2" y1="1489.8" x2="1743.1" y2="1489.8" stroke="#ff9900" stroke-width="3.2"/>
<text x="1746.72" y="1500.8" font-size="34" fill="#111111" textLength="76.52" lengthAdjust="spacingAndGlyphs">exp4</text>
<polyline points="212.5,1942.6 320,1942.6 326.6,1940.2 343.2,1936 395.9,1936 405.2,1938.7 413.1,1936 434.2,1936 448.7,1938 468.5,1939.3 481.7,1938 493.5,1934.1 501.4,1930.1 508,1923.5 514.6,1910.3 521.2,1893.2 524.8,1879.2 526.8,1871.8 528.7,1865.8 532.2,1861.9 536.7,1857.4 540.6,1851 544.1,1844.5 546.6,1838.6 549.1,1831.6 549.6,1829.7 549.1,1817.8 549.1,1815.3 552,1810.8 556,1806.4 559.5,1803.4 565.4,1799.4 570.4,1795.5 576.8,1790 582.3,1784.2 592.2,1774.3 599.2,1771.3 612.1,1765.4 619,1759.4 631.9,1753.5 633.9,1749.5 643.8,1745.5 653.7,1741.1 667.6,1737.6 673.6,1733.6 680,1730.8 690.8,1727.7 701.5,1722.3 707.7,1720.8 710.8,1716.9 721.5,1710.8 729.2,1711.5 743.1,1707.7 749.2,1703.8 763.1,1700 784.6,1693.8 792.3,1688.5 803.1,1685.4 823.1,1676.2 833.8,1673.8 840,1674.6 858.5,1669.2 866.2,1665.4 873.8,1665.4 889.2,1660.8 900,1655.4 907.7,1656.2 916.9,1653.8 923.1,1653.8 950,1646.5 955.5,1644.9 963.2,1644.9 966.5,1641.6 976.4,1635.6 983,1627.9 990.7,1624.6 996.2,1619.1 1003.8,1616.9 1015.9,1607.6 1023.6,1608.1 1032.4,1604.3 1039,1602.6 1043.4,1599.3 1044.5,1594.9 1051.1,1578.5 1059.9,1570.8 1066.5,1565.8 1070.9,1564.2 1079.7,1569.7 1086.3,1568 1091.8,1571.3 1099.5,1589.5 1107.1,1627.9 1113.7,1629 1116.8,1672.2 1118.1,1698 1119.3,1717.4 1121.9,1723.8 1126.4,1730.3 1127.1,1763.8 1133.5,1781.8 1138.7,1797.3 1146.4,1816.6 1154.2,1829.5 1161.9,1833.4 1168.3,1842.4 1174.8,1856.6 1182.5,1876 1190.3,1879.2 1203.1,1882.4 1210.9,1881.8 1222.5,1883 1230.2,1884.3 1241.8,1884.3 1250.8,1886.3 1258.6,1884.3 1267.6,1886.3 1279.9,1886.5 1285.7,1884.8 1291.4,1887 1332.6,1887 1337.6,1888.6 1476,1888.6 1482.6,1890.3 1862,1890.3" fill="none" stroke="#000000" stroke-width="3.3" stroke-linejoin="round" stroke-linecap="butt"/>
<polyline points="212.5,1942.6 468.5,1942.6 469.8,1938 481.7,1935.4 494.8,1930.1 508,1928.8 517.3,1924.8 522.5,1917.6 529.1,1919.6 537,1916.3 545,1909 546.6,1890 547.6,1874.3 549.1,1861.9 550.6,1854.4 555,1839.6 562,1814.8 568.9,1790 579.3,1755.5 589.3,1709.8 591.9,1703.7 594.3,1689.4 596.7,1668 603.8,1654.9 607.4,1641.8 610.9,1622.8 616.9,1600.2 622.8,1591.8 632.3,1579.9 632.3,1574 637.1,1569.2 645.4,1562.1 652.6,1558.5 660.9,1550.8 668,1549 674,1541.3 687.1,1532.3 693,1525.8 701.4,1521.6 708.5,1516.3 708.5,1510.3 715.6,1507.4 727.5,1503.2 734.7,1499.6 743,1506.8 747.8,1497.8 756.1,1493.7 769.2,1493.7 778.2,1489.6 791.4,1485.5 804.6,1481.9 812.9,1482.5 852.4,1471 867.2,1471.5 878.8,1467.4 882.1,1465.4 908.5,1458.3 928.2,1458.8 944.7,1454.2 956.3,1448.4 962.8,1442.6 962.8,1440.2 969.4,1436.9 982.6,1427.8 990.9,1423.7 997.5,1415.4 1004.1,1412.1 1017.2,1399.8 1030,1393.3 1037.9,1384.4 1043.8,1372.5 1043.8,1368.6 1050.8,1352.8 1057.7,1341.9 1065.6,1333 1071.5,1331.5 1079.5,1325.6 1085.4,1304.3 1091.3,1287.5 1099.2,1269.7 1107.2,1261.3 1115.1,1259.3 1126.9,1259.3 1126.9,1264.7 1133.9,1268.7 1141.8,1288.5 1146.7,1322.1 1154.6,1340.9 1161.6,1367.6 1166.5,1383.4 1175.4,1420.8 1182.1,1466.3 1189.5,1476.3 1195.5,1506.5 1203.5,1542.6 1210.2,1580.1 1210.2,1616.9 1223,1616.9 1224.3,1637.7 1225.7,1678.7 1227.6,1704.5 1229.6,1753.5 1235.4,1775.4 1243.1,1801.2 1249.6,1836 1257.3,1851.4 1265,1853 1270.2,1851.4 1278.2,1853.2 1288.1,1858.1 1298,1858.5 1306.3,1862.3 1337.6,1862.3 1345.8,1864.4 1362.3,1864.4 1367.2,1862.3 1373.8,1864.4 1388.7,1864.4 1395.3,1866 1420,1866 1429.9,1868.4 1438.1,1866 1449.7,1868.4 1532.1,1868.4 1537,1870.2 1700,1870.2 1706,1871.5 1712,1870.2 1765,1870.2 1770,1871.5 1780,1871.5 1785,1870.2 1830,1870.2 1836,1871.5 1850,1871.5 1855,1870.2 1862,1870.2" fill="none" stroke="#00b050" stroke-width="3.3" stroke-linejoin="round" stroke-linecap="butt"/>
<polyline points="212.5,1942.6 422.3,1942.6 435.5,1938 455.3,1936 468.5,1932.7 481.7,1929.5 498.8,1923.5 508,1914.3 514.6,1905.1 521.2,1894.5 527.8,1888.6 535.7,1885.2 537.7,1884.2 539.7,1879.2 543.1,1873.8 547.1,1867.8 549.6,1862.4 549.6,1852 551.1,1850.5 556,1849.5 562,1845 565.9,1841.1 569.4,1834.6 573.4,1831.1 580,1826.2 584.3,1822.9 595.2,1817 611.1,1808 618,1802.1 630.9,1797.1 634.9,1793.1 653.7,1787.2 663.6,1780.2 680,1775.4 700,1768.5 707.7,1763.1 715.4,1760.8 729.2,1758.5 738.5,1759.2 763.1,1751.5 770.8,1751.5 787.7,1746.9 793.8,1743.1 803.1,1740.8 824.6,1735.1 852.3,1735.4 860,1731.5 875.4,1731.5 881.5,1727.7 893.8,1722.3 901.5,1720 910.8,1720 929.2,1714.6 936.9,1714.6 947.7,1711.1 953.8,1713.1 963.2,1713.6 976.4,1709.2 983,1709.8 991.8,1707.6 997.3,1707.9 1010.4,1703.7 1017,1699.9 1031.3,1700.2 1040.1,1695.5 1044.5,1690.5 1052.2,1687 1059.9,1687.5 1081.9,1680.9 1106,1674.6 1117,1673.5 1125.8,1670.8 1129.1,1673 1142.5,1668.4 1147.7,1669 1155.4,1665.1 1161.9,1665.1 1168.3,1669 1189,1674.2 1195.4,1682.5 1208.3,1695.4 1209.6,1705.8 1216,1710.3 1230.2,1745.7 1238,1757.3 1253.4,1817.9 1258.6,1836 1265,1855.3 1270,1857.3 1278.2,1864.7 1289.8,1868.8 1293.1,1870.5 1317.8,1870.5 1324.4,1872.1 1469.4,1872.1 1476,1873.6 1497.5,1873.6 1504,1872.1 1510.6,1873.6 1862,1873.6" fill="none" stroke="#ff9900" stroke-width="3.3" stroke-linejoin="round" stroke-linecap="butt"/>
</svg>
</body></html>
